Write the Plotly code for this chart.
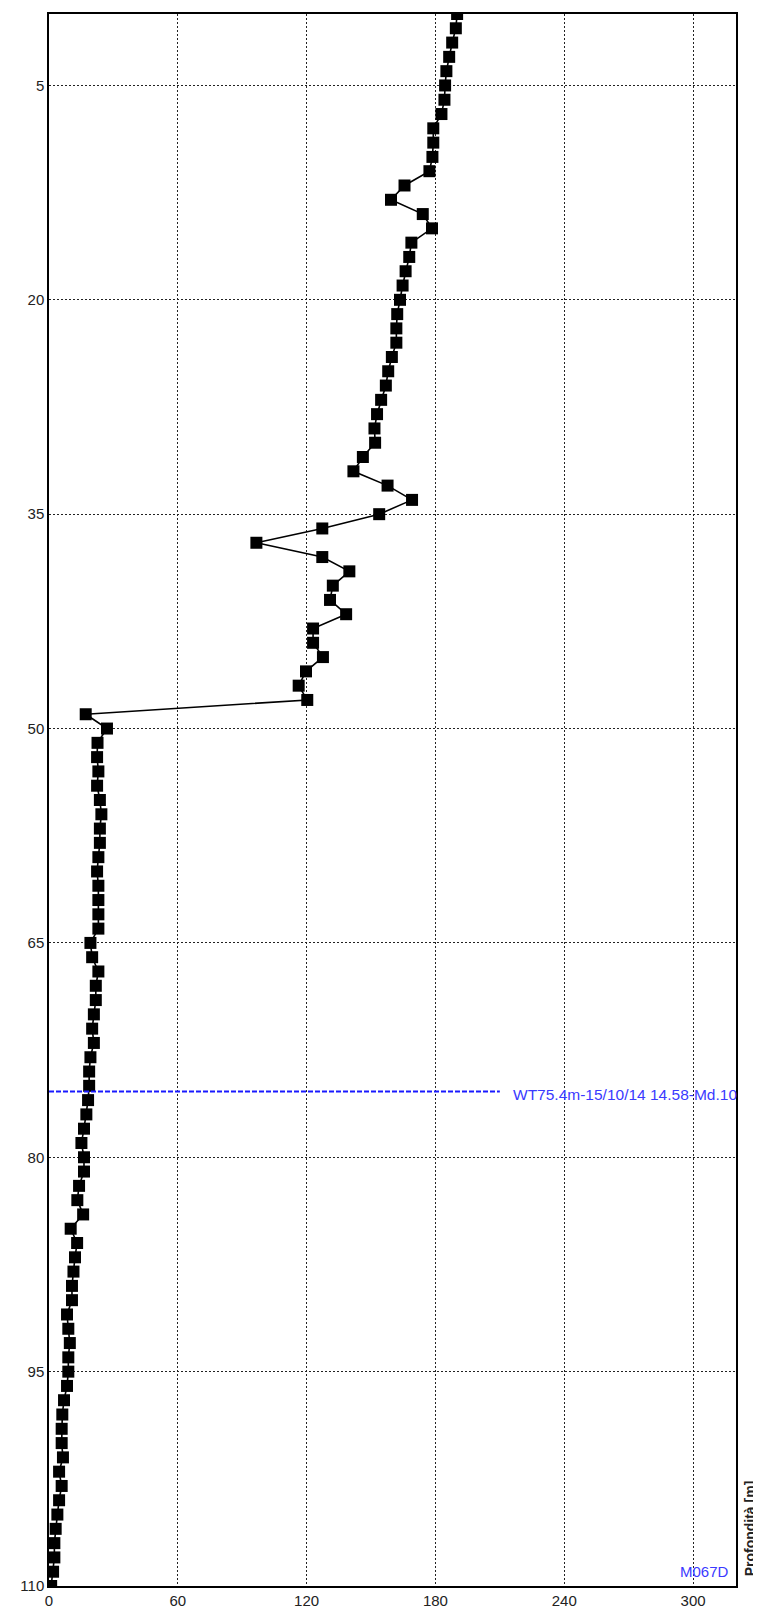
import plotly.graph_objects as go

depth_m = list(range(0, 111))
values = [
    190.1, 189.5, 187.8, 186.4, 185.1, 184.5, 184.2, 182.8, 179.0, 179.0,
    178.6, 177.2, 165.6, 159.3, 174.1, 178.4, 168.8, 167.8, 166.1, 164.7,
    163.5, 162.2, 161.8, 161.8, 159.7, 158.0, 156.9, 154.7, 152.8, 151.6,
    151.9, 146.2, 141.8, 157.7, 169.1, 153.8, 127.3, 96.6, 127.3, 139.9,
    132.2, 130.9, 138.4, 123.0, 123.0, 127.6, 119.7, 116.3, 120.3, 17.1,
    27.0, 22.6, 22.4, 23.0, 22.4, 23.7, 24.4, 23.7, 23.7, 23.0,
    22.4, 23.0, 23.0, 23.0, 23.0, 19.3, 20.1, 23.0, 21.8, 21.8,
    20.9, 20.1, 20.9, 19.3, 18.7, 18.7, 18.2, 17.4, 16.3, 15.1,
    16.3, 16.3, 14.0, 13.2, 15.9, 10.1, 13.1, 12.1, 11.4, 10.7,
    10.7, 8.4, 9.0, 9.7, 9.0, 9.0, 8.4, 7.0, 6.2, 5.9,
    5.9, 6.5, 4.7, 5.9, 4.7, 3.9, 3.1, 2.5, 2.5, 1.9,
    1.0,
]
x_ticks = [0, 60, 120, 180, 240, 300]
y_ticks = [5, 20, 35, 50, 65, 80, 95, 110]
water_table_depth = 75.4
water_table_end = 210
water_table_label = "WT75.4m-15/10/14 14.58-Md.10"
site_label = "M067D"
axis_title = "Profondità [m]"

FONT = "Liberation Sans, Arial, sans-serif"

# page has an 8px body margin: size the figure so it fits the 761x1613 window
W, H = 753, 1605
L, R, T, B = 41, 25, 4, 19
OFF = 8

fig = go.Figure()
fig.add_trace(go.Scatter(
    x=values, y=depth_m, mode="lines+markers",
    line=dict(color="black", width=1.6),
    marker=dict(symbol="square", size=12, color="black"),
    showlegend=False,
))

fig.add_shape(type="line", xref="x", yref="y",
              x0=0, x1=water_table_end, y0=water_table_depth, y1=water_table_depth,
              line=dict(color="#1a1aff", width=2, dash="5px,2px"))
fig.add_annotation(x=215, y=water_table_depth, xref="x", yref="y",
                   text=water_table_label, showarrow=False,
                   xanchor="left", yanchor="middle", yshift=-3,
                   font=dict(family=FONT, size=15.5, color="#3a3aff"))
fig.add_annotation(x=317.5, y=109.0, xref="x", yref="y",
                   text=site_label, showarrow=False,
                   xanchor="right", yanchor="middle",
                   font=dict(family=FONT, size=15, color="#3a3aff"))

# rotated axis title, positioned by page pixel centre
px, py = 750 - OFF, 1536 - OFF
fig.add_annotation(x=(px - L) / (W - L - R), y=(H - B - py) / (H - T - B),
                   xref="paper", yref="paper",
                   text="<b>" + axis_title + "</b>", showarrow=False,
                   textangle=-90, xanchor="center", yanchor="middle",
                   font=dict(family=FONT, size=14, color="#222"))

fig.update_xaxes(range=[0, 320], tickvals=x_ticks, ticks="",
                 showgrid=True, gridcolor="#222", gridwidth=1, griddash="2px,2px",
                 showline=True, linecolor="black", linewidth=1.5, mirror=True,
                 zeroline=False, tickfont=dict(family=FONT, size=15, color="#222"))
fig.update_yaxes(range=[110, 0], tickvals=y_ticks, ticks="",
                 showgrid=True, gridcolor="#222", gridwidth=1, griddash="2px,2px",
                 showline=True, linecolor="black", linewidth=1.5, mirror=True,
                 zeroline=False, tickfont=dict(family=FONT, size=15, color="#222"))

fig.update_layout(
    width=W, height=H,
    margin=dict(l=L, r=R, t=T, b=B),
    paper_bgcolor="white", plot_bgcolor="white",
)

fig.write_html("out.html")
